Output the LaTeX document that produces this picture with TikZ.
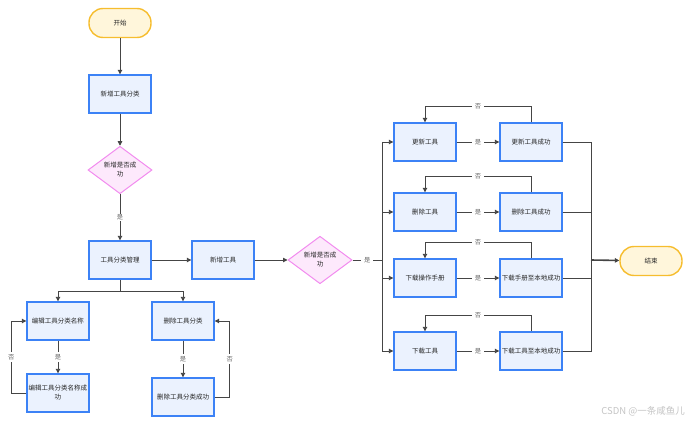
\documentclass[tikz,border=0pt]{standalone}
\usepackage{fontspec}
\setmainfont{Noto Sans CJK SC}
\usetikzlibrary{arrows.meta,shapes.geometric}
\definecolor{boxfill}{HTML}{EBF2FE}
\definecolor{boxline}{HTML}{3C82F6}
\definecolor{termfill}{HTML}{FFF6DB}
\definecolor{termline}{HTML}{F6BD2E}
\definecolor{dfill}{HTML}{FDE9FC}
\definecolor{dline}{HTML}{F28BEF}
\definecolor{conn}{HTML}{454545}
\definecolor{txt}{HTML}{262626}
\definecolor{wmgray}{HTML}{C4C4C4}
\begin{document}
\begin{tikzpicture}[x=1pt,y=-1pt,
  proc/.style={draw=boxline,fill=boxfill,line width=1.4pt,minimum width=62pt,minimum height=38pt,
    inner xsep=0pt,inner ysep=1pt,align=center,text width=62pt,text=txt,font=\fontsize{6.5}{9}\selectfont},
  term/.style={draw=termline,fill=termfill,line width=1.4pt,rounded corners=14pt,minimum width=62pt,
    minimum height=29pt,inner sep=1pt,align=center,text=txt,font=\fontsize{6.5}{9}\selectfont},
  dec/.style={diamond,draw=dline,fill=dfill,line width=1pt,minimum width=64pt,minimum height=40pt,
    inner sep=0pt,align=center,text=txt,font=\fontsize{6.5}{9}\selectfont},
  conn/.style={draw=conn,line width=0.9pt},
  arr/.style={conn,-{Triangle[length=4.5pt,width=4.5pt]}},
  lbl/.style={fill=white,inner xsep=3pt,inner ysep=1pt,text=conn!80,font=\fontsize{6.3}{7}\selectfont}
]
\useasboundingbox (0,0) rectangle (691,425);

% left column
\node[term] (start) at (120,23) {开始};
\node[proc] (add) at (120,94) {新增工具分类};
\node[dec] (d1) at (120,170) {新增是否成\\功};
\node[proc] (mgr) at (120,260) {工具分类管理};
\node[proc] (addtool) at (223,260) {新增工具};
\node[dec] (d2) at (320,260) {新增是否成\\功};

\node[proc] (edit) at (58,321) {编辑工具分类名称};
\node[proc] (editok) at (58,393) {编辑工具分类名称成\\功};
\node[proc] (delc) at (183,321) {删除工具分类};
\node[proc] (delcok) at (183,397) {删除工具分类成功};

% right column
\node[proc] (upd) at (425,142) {更新工具};
\node[proc] (updok) at (531,142) {更新工具成功};
\node[proc] (del) at (425,212) {删除工具};
\node[proc] (delok) at (531,212) {删除工具成功};
\node[proc] (man) at (425,278) {下载操作手册};
\node[proc] (manok) at (531,278) {下载手册至本地成功};
\node[proc] (dlt) at (425,351) {下载工具};
\node[proc] (dltok) at (531,351) {下载工具至本地成功};

\node[term] (end) at (651,261) {结束};

\node[text=wmgray,font=\fontsize{9.5}{10}\selectfont,anchor=east,inner sep=0pt] (wm) at (685,411) {CSDN @一条咸鱼儿};

% coordinates
\coordinate (bus) at (382,260);
\coordinate (rbus) at (591,260);
\coordinate (br) at (120,291);

% main flow
\draw[arr] (start) -- (add);
\draw[arr] (add) -- (d1);
\draw[arr] (d1) -- node[lbl]{是} (mgr);
\draw[arr] (mgr) -- (addtool);
\draw[arr] (addtool) -- (d2);
\draw[conn] (d2.east) -- node[lbl]{是} (bus);
\draw[conn] (upd.west -| bus) -- (dlt.west -| bus);
\draw[arr] (upd.west -| bus) -- (upd.west);
\draw[arr] (del.west -| bus) -- (del.west);
\draw[arr] (man.west -| bus) -- (man.west);
\draw[arr] (dlt.west -| bus) -- (dlt.west);

% right pairs
\draw[arr] (upd) -- node[lbl]{是} (updok);
\draw[arr] (del) -- node[lbl]{是} (delok);
\draw[arr] (man) -- node[lbl]{是} (manok);
\draw[arr] (dlt) -- node[lbl]{是} (dltok);
\draw[arr] (updok.north) -- ++(0,-16) -| node[lbl,pos=0.25]{否} (upd.north);
\draw[arr] (delok.north) -- ++(0,-16) -| node[lbl,pos=0.25]{否} (del.north);
\draw[arr] (manok.north) -- ++(0,-16) -| node[lbl,pos=0.25]{否} (man.north);
\draw[arr] (dltok.north) -- ++(0,-16) -| node[lbl,pos=0.25]{否} (dlt.north);

% to end
\draw[conn] (updok.east) -| (rbus);
\draw[conn] (delok.east) -| (rbus);
\draw[conn] (manok.east) -| (rbus);
\draw[conn] (dltok.east) -| (rbus);
\draw[arr,line width=1.6pt] (rbus) -- (end);

% bottom left
\draw[conn] (mgr.south) -- (br);
\draw[arr] (br) -| (edit.north);
\draw[arr] (br) -| (delc.north);
\draw[arr] (edit) -- node[lbl,inner xsep=1pt,inner ysep=2pt]{是} (editok);
\draw[arr] (delc) -- node[lbl,inner xsep=1pt,inner ysep=2pt]{是} (delcok);
\draw[arr] (editok.west) -- ++(-15,0) |- node[lbl,pos=0.25,inner xsep=1pt,inner ysep=2pt]{否} (edit.west);
\draw[arr] (delcok.east) -- ++(15,0) |- node[lbl,pos=0.25,inner xsep=1pt,inner ysep=2pt]{否} (delc.east);
\end{tikzpicture}
\end{document}
